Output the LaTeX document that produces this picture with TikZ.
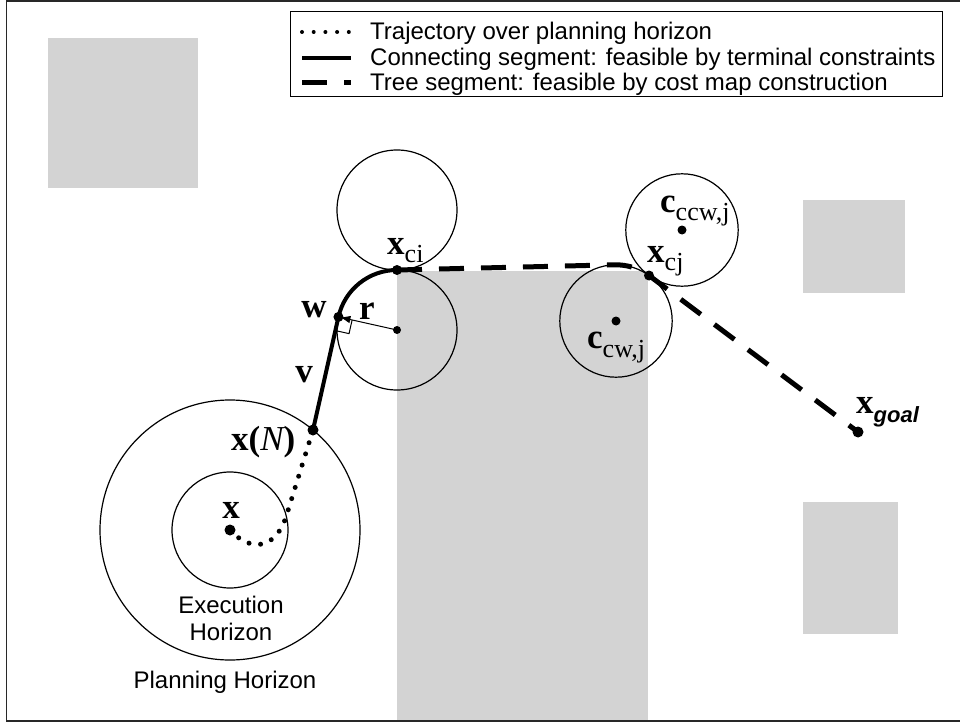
\documentclass[tikz,border=0pt]{standalone}
\usepackage{fontspec}
\setmainfont{Liberation Sans}
\newfontfamily\tnr{Liberation Serif}
\usepackage{tikz}
\usetikzlibrary{calc}
\usetikzlibrary{arrows.meta}

\definecolor{obst}{RGB}{211,211,211}
\definecolor{rimgray}{RGB}{40,40,40}

\newcommand{\lsub}[2][8pt]{\raisebox{-#1}{\fontsize{26}{26}\selectfont\tnr\mdseries #2}}

\begin{document}
\begin{tikzpicture}[x=1pt,y=-1pt,
    lbl/.style={inner sep=0pt,font=\fontsize{35}{35}\selectfont\tnr\bfseries},
    txt/.style={inner sep=0pt,font=\fontsize{24}{28}\selectfont},
    rim/.style={line width=1.2pt},
    traj/.style={line width=5pt,line cap=round,dash pattern=on 0pt off 11.7pt},
    conn/.style={line width=4pt},
    tree/.style={line width=5pt,dash pattern=on 25pt off 17pt}]
    \useasboundingbox (0,0) rectangle (960,722);

    % obstacles
    \fill[obst] (48,38) rectangle (198,188);
    \fill[obst] (803,200) rectangle (905,293);
    \fill[obst] (803,502) rectangle (898,634);
    \fill[obst] (397,271) rectangle (648,721);

    \draw[rimgray,line width=1.3pt] (960,1) -- (6.5,1) -- (6.5,721) -- (960,721);

    % legend
    \draw[fill=white,line width=1pt] (290,12) rectangle (942,97);
    \draw[traj,line width=4pt] (302,32) -- (350,32);
    \draw[conn] (302,58) -- (351,58);
    \draw[tree] (302,83) -- (351,83);
    \node[txt,anchor=base west] (leg1) at (370,40) {Trajectory over planning horizon};
    \node[txt,anchor=base west] (leg2) at (370,66) {Connecting segment: feasible by terminal constraints};
    \node[txt,anchor=base west] (leg3) at (370,91) {Tree segment: feasible by cost map construction};

    % points
    \coordinate (x0) at (230,530);
    \coordinate (xN) at (313,430);
    \coordinate (rc) at (397,330);
    \coordinate (cu) at (397,210);
    \coordinate (w) at ($(rc)+(192.6:60)$);
    \coordinate (xci) at (397,270);
    \coordinate (ccw) at (616,321);
    \coordinate (cccw) at (682,230);
    \coordinate (xcj) at ($(ccw)!0.5!(cccw)$);
    \coordinate (tj) at ($(ccw)+(268.6:56.2)$);
    \coordinate (goal) at (858,432);

    % horizons and turning circles
    \draw[rim] (x0) circle (58);
    \draw[rim] (x0) circle (130);
    \draw[rim] (cu) circle (60);
    \draw[rim] (rc) circle (60);
    \draw[rim] (ccw) circle (56.2);
    \draw[rim] (cccw) circle (56.2);

    % paths
    \draw[traj] (x0) .. controls (250,552) and (275,550) .. (286,517) -- (xN);
    \draw[conn] (xN) -- (w) arc[start angle=192.6,end angle=270,radius=60];
    \draw[tree] (xci) -- (tj) arc[start angle=268.6,end angle=305.96,radius=56.2] -- (goal);

    % radius and right angle
    \draw[line width=1pt,shorten >=3pt,-{Triangle[length=9pt,width=7pt]}] (rc) -- (w);
    \coordinate (q1) at ($(w)!14pt!(rc)$);
    \coordinate (q3) at ($(w)!14pt!(xN)$);
    \draw[line width=1pt] (q1) -- ($(q1)+(q3)-(w)$) -- (q3);

    \fill (x0) circle (5.5);
    \fill (xN) circle (5.5);
    \fill (w) circle (5);
    \fill (xci) circle (5);
    \fill (xcj) circle (5);
    \fill (goal) circle (5.5);
    \fill (rc) circle (4);
    \fill (ccw) circle (4.5);
    \fill (cccw) circle (4.5);

    % labels
    \node[lbl,anchor=base] (lx) at (231,518) {x};
    \node[lbl,anchor=base west] (lxN) at (231,450) {x({\mdseries\itshape N})};
    \node[lbl,anchor=base] (lw) at (314,317) {w};
    \node[lbl,anchor=base] (lr) at (367,319) {r};
    \node[lbl,anchor=base] (lv) at (304,382) {v};
    \node[lbl,anchor=base west] (lxci) at (387,254) {x\lsub{ci}};
    \node[lbl,anchor=base west] (lccw) at (660,212) {c\lsub{ccw,j}};
    \node[lbl,anchor=base west] (lxcj) at (647,262) {x\lsub{cj}};
    \node[lbl,anchor=base west] (lcw) at (587,348) {c\lsub[9pt]{cw,j}};
    \node[lbl,anchor=base west] (lgoal) at (856,413) {x\raisebox{-9pt}{\fontsize{22}{22}\selectfont\normalfont\bfseries\itshape goal}};

    \node[txt,anchor=base] (exe) at (231,613) {Execution};
    \node[txt,anchor=base] (hor) at (231,640) {Horizon};
    \node[txt,anchor=base] (plan) at (225,688) {Planning Horizon};
\end{tikzpicture}
\end{document}
